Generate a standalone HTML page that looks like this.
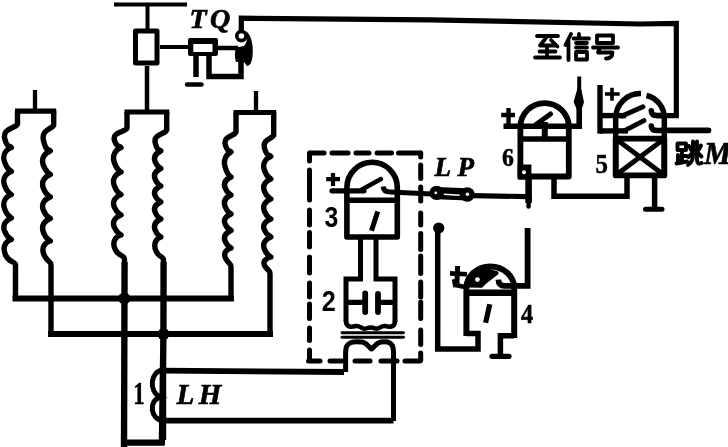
<!DOCTYPE html>
<html><head><meta charset="utf-8"><title>diagram</title>
<style>
html,body{margin:0;padding:0;background:#fff;}
body{width:728px;height:447px;overflow:hidden;font-family:"Liberation Sans",sans-serif;}
svg{display:block;filter:grayscale(1)}
.s{font-family:"Liberation Serif",serif;}
.a{font-family:"Liberation Sans",sans-serif;}
</style></head><body>
<svg width="728" height="447" viewBox="0 0 728 447">
<rect width="728" height="447" fill="#fff"/>
<g fill="none" stroke="#000" stroke-linecap="butt" stroke-linejoin="miter">
<path d="M114,4.5 H187" stroke-width="4" />
<path d="M147.5,5 V29" stroke-width="4" />
<path d="M135.5,31 H157 V63 H135.5 Z" stroke-width="5" stroke-linejoin="round"/>
<path d="M147,66 V112" stroke-width="4.5" />
<path d="M160,47 H188" stroke-width="4" />
<path d="M196,55 V77" stroke-width="5.5" />
<path d="M209,55 V76.4 H241 V60" stroke-width="5.5" />
<path d="M187,84.5 H201.5" stroke-width="4.5" stroke-linecap="round"/>
<path d="M217,48 H238" stroke-width="4.5" />
<path d="M241.3,30 V18.2 L430,19.8 L640,24 L676.3,23.4 V115.6 H664" stroke-width="5.2" stroke-linejoin="miter"/>
<path d="M15,111.2 H56.2" stroke-width="5.2" />
<path d="M35,90 V111" stroke-width="4.3" />
<path d="M17.5,111 L17.5,124 L17.5,124 C16.5,128 2.165000000000001,128.03 4.6850000000000005,138.32999999999998 S9.3,145.1 11.3,147.6 C6.260000000000001,149.6 1.8500000000000014,154.76999999999998 4.6850000000000005,162.418 S8.8,169.0 11.3,171.5 C6.260000000000001,173.5 1.8500000000000014,178.43 4.6850000000000005,185.822 S8.8,192.1 11.3,194.6 C6.260000000000001,196.6 1.8500000000000014,201.62 4.6850000000000005,209.108 S8.8,215.5 11.3,218 C6.260000000000001,220 1.8500000000000014,224.45 4.6850000000000005,231.33 S8.8,237.0 11.3,239.5 C5.630000000000001,241.0 1.8500000000000014,247.375 5.630000000000001,255.25 S15.5,261 15.5,265 L15.5,298.5" stroke-width="5.4" stroke-linejoin="round"/>
<path d="M53.7,111 L53.7,125 L53.7,125 C52.7,129 40.875,129.15 43.474999999999994,140.65 S48.3,148.5 50.3,151 C45.099999999999994,153 40.55,158.05 43.474999999999994,165.57 S47.8,172.0 50.3,174.5 C45.099999999999994,176.5 40.55,181.25 43.474999999999994,188.45 S47.8,194.5 50.3,197 C45.099999999999994,199 40.55,203.45 43.474999999999994,210.33 S47.8,216.0 50.3,218.5 C45.099999999999994,220.5 40.55,225.25 43.474999999999994,232.45 S47.8,238.5 50.3,241 C44.449999999999996,242.5 40.55,248.35 44.449999999999996,255.7 S51,261 51,265 L51,334" stroke-width="5.4" stroke-linejoin="round"/>
<path d="M124.5,112 H169.3" stroke-width="5.2" />
<path d="M127,112 L127,128 L127,128 C126,132 111.865,131.83 114.385,140.13 S119,145.1 121,147.6 C115.96,149.6 111.55,154.92 114.385,162.728 S118.5,169.5 121,172 C115.96,174 111.55,178.78 114.385,186.012 S118.5,192.1 121,194.6 C115.96,196.6 111.55,200.72 114.385,207.248 S118.5,212.5 121,215 C115.96,217 111.55,221.0 114.385,227.4 S118.5,232.5 121,235 C115.33,236.5 111.55,242.35 115.33,249.7 S124.5,255 124.5,259 L124.5,447" stroke-width="5.4" stroke-linejoin="round"/>
<path d="M166.7,112 L166.7,130 L166.7,130 C165.7,134 153.115,133.9 155.235,142.9 S158.8,148.5 160.8,151 C156.56,153 152.85000000000002,156.25 155.235,161.85 S158.3,166.0 160.8,168.5 C156.56,170.5 152.85000000000002,173.75 155.235,179.35 S158.3,183.5 160.8,186 C156.56,188 152.85000000000002,190.8 155.235,195.92 S158.3,199.5 160.8,202 C156.56,204 152.85000000000002,207.1 155.235,212.54 S158.3,216.5 160.8,219 C156.56,221 152.85000000000002,224.4 155.235,230.16 S158.3,234.5 160.8,237 C156.03,238.5 152.85000000000002,244.0 156.03,251.0 S163.5,256 163.5,260 L163.5,440" stroke-width="5.4" stroke-linejoin="round"/>
<path d="M233.5,112.5 H276.2" stroke-width="5.2" />
<path d="M256,91 V112" stroke-width="4.3" />
<path d="M236,112.5 L236,132 L236,132 C235,136 223.025,135.85 225.225,144.35 S229,149.5 231,152 C226.6,154 222.75,159.5 225.225,167.5 S228.5,174.5 231,177 C226.6,179 222.75,182.4 225.225,188.16 S228.5,192.5 231,195 C226.6,197 222.75,200.7 225.225,206.78 S228.5,211.5 231,214 C226.6,216 222.75,218.95 225.225,224.23 S228.5,228.0 231,230.5 C226.6,232.5 222.75,235.75 225.225,241.35 S228.5,245.5 231,248 C226.05,249.5 222.75,253.6 226.05,259.2 S231,263 231,267 L231,298.5" stroke-width="5.4" stroke-linejoin="round"/>
<path d="M273.7,112.5 L273.7,135 L273.7,135 C272.7,139 262.1,138.925 264.5,148.175 S268.8,154.0 270.8,156.5 C266.0,158.5 261.8,163.25 264.5,170.45 S268.3,176.5 270.8,179 C266.0,181 261.8,185.0 264.5,191.4 S268.3,196.5 270.8,199 C266.0,201 261.8,205.0 264.5,211.4 S268.3,216.5 270.8,219 C266.0,221 261.8,224.4 264.5,230.16 S268.3,234.5 270.8,237 C266.0,239 261.8,243.0 264.5,249.4 S268.3,254.5 270.8,257 C265.40000000000003,258.5 261.8,261.9 265.40000000000003,266.8 S270,270 270,274 L270,334" stroke-width="5.4" stroke-linejoin="round"/>
<path d="M15.5,298.5 H231" stroke-width="6" stroke-linecap="square"/>
<path d="M51,334 H270" stroke-width="6" stroke-linecap="square"/>
<path d="M121.2,442.6 H164.6" stroke-width="6.4" />
<path d="M124.6,262 L123.9,447" stroke-width="6.2" />
<path d="M163.6,262 L163.4,334 L161.8,445" stroke-width="6.2" />
<path d="M162.5,370.6 L344,372" stroke-width="5.8" />
<path d="M162,420.7 H393.5" stroke-width="5.8" />
<path d="M163,370 C151,370.5 147.5,391 160.5,397 C147.5,401 151,420 163,420.5" stroke-width="5" />
<path d="M310,153 H324" stroke-width="5" stroke-linecap="round"/>
<path d="M332,153 H348" stroke-width="5" stroke-linecap="round"/>
<path d="M356,153 H369" stroke-width="5" stroke-linecap="round"/>
<path d="M377,153 H391.5" stroke-width="5" stroke-linecap="round"/>
<path d="M398.5,153 H420" stroke-width="5" stroke-linecap="round"/>
<path d="M309.5,153 V161" stroke-width="5" stroke-linecap="round"/>
<path d="M309.5,170 V200" stroke-width="5" stroke-linecap="round"/>
<path d="M309.5,210 V225" stroke-width="5" stroke-linecap="round"/>
<path d="M309.5,232.5 V247" stroke-width="5" stroke-linecap="round"/>
<path d="M309.5,257 V273" stroke-width="5" stroke-linecap="round"/>
<path d="M309.5,283 V297" stroke-width="5" stroke-linecap="round"/>
<path d="M309.5,304 V318.5" stroke-width="5" stroke-linecap="round"/>
<path d="M309.5,328 V340.5" stroke-width="5" stroke-linecap="round"/>
<path d="M309.5,350 V360" stroke-width="5" stroke-linecap="round"/>
<path d="M420.7,153 V157" stroke-width="5" stroke-linecap="round"/>
<path d="M420.7,165 V178.5" stroke-width="5" stroke-linecap="round"/>
<path d="M420.7,187 V201" stroke-width="5" stroke-linecap="round"/>
<path d="M420.7,213 V225" stroke-width="5" stroke-linecap="round"/>
<path d="M420.7,233.5 V249.5" stroke-width="5" stroke-linecap="round"/>
<path d="M420.7,256 V273.5" stroke-width="5" stroke-linecap="round"/>
<path d="M420.7,282 V297" stroke-width="5" stroke-linecap="round"/>
<path d="M420.7,302 V318.5" stroke-width="5" stroke-linecap="round"/>
<path d="M420.7,330 V344.5" stroke-width="5" stroke-linecap="round"/>
<path d="M420.7,353 V360" stroke-width="5" stroke-linecap="round"/>
<path d="M308.5,361 H320" stroke-width="5" stroke-linecap="round"/>
<path d="M330,361 H342" stroke-width="5" stroke-linecap="round"/>
<path d="M355,361 H370" stroke-width="5" stroke-linecap="round"/>
<path d="M381,361 H397" stroke-width="5" stroke-linecap="round"/>
<path d="M405,361 H420" stroke-width="5" stroke-linecap="round"/>
<path d="M346.9,237 V187.5 A25.2,25.2 0 0 1 397.3,187.5 V237 Z" stroke-width="5.6" stroke-linejoin="round"/>
<path d="M346.8,200.2 H397.3" stroke-width="5.6" />
<path d="M332,190.8 H364" stroke-width="5.2" stroke-linecap="round"/>
<path d="M361,190 L381,179" stroke-width="4.4" stroke-linecap="round"/>
<path d="M383.2,186.5 C383.5,190.5 386,192 390,192 L432,194" stroke-width="5" />
<path d="M326.2,179.2 H340 M333,173 V186" stroke-width="4.2" />
<path d="M377.7,211.6 L371.5,230.7" stroke-width="5" />
<path d="M360.5,238 V279 H346 V322" stroke-width="5" stroke-linejoin="miter"/>
<path d="M376,238 V279 H395 V322" stroke-width="5" stroke-linejoin="miter"/>
<path d="M346,302.4 H364 M378,302.4 H395" stroke-width="5.2" />
<path d="M365.2,293.5 V312 M378,294 V312" stroke-width="5.8" stroke-linecap="round"/>
<path d="M346,321 C346,328 352,327 356,326 C360,325 362,330 366,328.5 C370,327 372,327 375,328.5 C379,330 381,325 385,326 C389,327 395,328 395,321" stroke-width="4.5" />
<path d="M342,332.8 H403.5" stroke-width="2.9" stroke-linecap="round"/>
<path d="M342,337.2 H403.5" stroke-width="2.9" stroke-linecap="round"/>
<path d="M345.6,372 V352 C345.6,340 356,341.5 362,342 C367,342.5 368,347 371.5,349 C375,347 376,342.5 381,342 C387,341.5 393.5,341 393.5,352 V421" stroke-width="5" stroke-linejoin="round"/>
<path d="M472,195.6 L528,196.6" stroke-width="5.2" />
<path d="M528.6,178 V203" stroke-width="6.6" />
<path d="M528.6,202 V206.5" stroke-width="4.4" stroke-linecap="round"/>
<path d="M437.7,227 V349 H478 V333.6 H466.4" stroke-width="5.5" stroke-linejoin="miter"/>
<path d="M466.4,336 V288 A23.9,21.6 0 0 1 514.2,288 V338" stroke-width="6" />
<path d="M466.4,292.7 H514.2" stroke-width="6.4" />
<path d="M455.5,285 L467,287.5" stroke-width="4.5" />
<path d="M498.4,279.6 C498.6,284 500.5,285.8 504.5,285.8 H527.6 V228" stroke-width="5.8" stroke-linejoin="miter"/>
<path d="M514.2,335.7 H500.4 V355" stroke-width="5.5" stroke-linejoin="miter"/>
<path d="M492,356.3 H509" stroke-width="5.2" stroke-linecap="round"/>
<path d="M489.8,304.2 L485.6,322.8" stroke-width="5.2" />
<path d="M450,273.4 L467,274.2" stroke-width="4.6" />
<path d="M457.6,266 L456.8,287" stroke-width="5" />
<path d="M455,279 L456.5,287" stroke-width="6.5" />
<path d="M520.4,176.5 V127 A24.2,24 0 0 1 568.8,127 V176.5 Z" stroke-width="5.8" stroke-linejoin="round"/>
<path d="M520,139 H568.8" stroke-width="5.5" />
<path d="M503.5,126.3 H579.2 V100" stroke-width="5.6" stroke-linejoin="miter"/>
<path d="M579.2,100 V76.5" stroke-width="4" />
<path d="M536,124.5 L550.5,114" stroke-width="5" stroke-linecap="round"/>
<path d="M544.8,122 V138" stroke-width="6" />
<path d="M501.2,115 H515 M508.5,108 V124" stroke-width="4.4" />
<path d="M554,178 V196.3 H627 V176" stroke-width="5.5" stroke-linejoin="miter"/>
<path d="M600,85 V133.6" stroke-width="5.4" />
<path d="M600,115.6 H626" stroke-width="5.4" />
<path d="M600,130.9 H628" stroke-width="5.4" />
<path d="M622,116 L643,106.8" stroke-width="4.8" stroke-linecap="round"/>
<path d="M624,130.8 L644,120.6" stroke-width="4.8" stroke-linecap="round"/>
<path d="M615.7,175.4 V118 A24.5,24.5 0 0 1 641,93.6" stroke-width="5.5" />
<path d="M646.5,95.5 A23,23 0 0 1 664.3,118 V175.4" stroke-width="5.5" />
<path d="M615.7,138.7 H664.3 V175.4 H615.7 Z" stroke-width="5.8" stroke-linejoin="round"/>
<path d="M616,139 L664,175 M664,139 L616,175" stroke-width="4.8" />
<path d="M651.3,110.8 C651.5,114.5 653.5,115.6 657.5,115.6 H664" stroke-width="5.6" stroke-linecap="round"/>
<path d="M651.3,126 C651.5,129.5 653.5,130.5 657.5,130.5 H664" stroke-width="5.6" stroke-linecap="round"/>
<path d="M662,130.4 H708.5" stroke-width="5.6" stroke-linecap="round"/>
<path d="M654.6,176 V208" stroke-width="5.5" />
<path d="M645.5,209.3 H662" stroke-width="5" stroke-linecap="round"/>
<path d="M605,94 H619.7 M612,87.7 V100.7" stroke-width="3.6" />
</g>
<g fill="#000" stroke="none">
<!-- junction dots -->
<circle cx="124.3" cy="298.5" r="6"/>
<circle cx="163.5" cy="334" r="6"/>
<circle cx="438.7" cy="228" r="5.6"/>
<circle cx="528.4" cy="197" r="3.6"/>
<!-- TQ contact -->
<path d="M246,31 C252,36 253.5,46 252.5,56 C252,62 250,66 247,66 L244,62 H236 C234.5,58 234.5,52 236,47.5 L244,46 C247,43 248,37 246,31 Z"/>
<path fill-rule="evenodd" d="M190,38 H216 Q218,38 218,40 V54 Q218,56 216,56 H190 Q188,56 188,54 V40 Q188,38 190,38 Z M193.3,44 V52 H212.5 V44 Z"/>
<!-- LP link -->
<circle cx="436.6" cy="192.9" r="7.2"/>
<circle cx="467.3" cy="194.5" r="7.3"/>
<path d="M436.6,187 L467.3,188.3 V200.6 L436.6,199.2 Z"/>
<path d="M468,287.5 V278 L474,273 L482,269.5 L490,269 L498,271.5 L498.6,274 L487,283 L482,287.8 Z"/>
<!-- arrow head relay 6 -->
<path d="M579.2,82 L581.4,90 L584,102 L581.8,109 H576.6 L573.6,102 L577,90 Z"/>
<!-- relay 6 small square -->
<rect x="517.6" y="164.5" width="13.8" height="15"/>
</g>
<g fill="#fff" stroke="none">
<circle cx="435.8" cy="192.8" r="1.4"/>
<circle cx="467.4" cy="194.3" r="1.8"/>
<path d="M443.8,193.4 L459.7,194.4 V196 L443.8,195 Z"/>
<circle cx="524" cy="172.2" r="2"/>
<circle cx="477.4" cy="279.6" r="2.4"/>
</g>
<!-- contact ring -->
<circle cx="241.4" cy="36" r="4.6" fill="#fff" stroke="#000" stroke-width="3.6"/>
<g fill="#000" stroke="#000" stroke-width="0.7" class="s" font-weight="bold" font-style="italic">
<text x="189.5" y="28.3" font-size="28" letter-spacing="3.5">TQ</text>
<text x="176.5" y="404" font-size="29" letter-spacing="4.5">LH</text>
<text x="434.5" y="176" font-size="27" letter-spacing="6.5">LP</text>
<text x="704" y="164.3" font-size="30.5">M</text>
</g>
<g fill="#000" stroke="#000" stroke-width="0.5">
<text transform="translate(133.2,404.3) scale(0.74,1)" font-size="31" class="s" font-weight="bold">1</text>
<text transform="translate(324.6,226.7) scale(0.84,1)" font-size="29.5" class="a" font-weight="bold" stroke-width="0">3</text>
<text transform="translate(321.8,311.2) scale(0.84,1)" font-size="30" class="a" font-weight="bold" stroke-width="0">2</text>
<text transform="translate(521,323) scale(0.9,1)" font-size="27" class="s" font-weight="bold">4</text>
<text transform="translate(595.5,173) scale(0.92,1)" font-size="27" class="s" font-weight="bold">5</text>
<text transform="translate(502,166.3) scale(0.95,1)" font-size="25" class="s" font-weight="bold">6</text>
</g>
<!-- CJK drawn as strokes -->
<g fill="none" stroke="#000" stroke-width="3.8" stroke-linecap="round" stroke-linejoin="round">
<!-- 至 -->
<path d="M537,36 H558 M547,36.5 L540,45.5 H556 M551,40 L557.5,46.5 M547,47 V57 M539.5,51.5 H555.5 M535,57.5 H560"/>
<!-- 信 -->
<path d="M571,34 L565.5,45 M568.5,41 V60 M579,34 V36.5 M573.5,38.5 H589 M576,43 H587 M576,47.5 H587 M576,52 H587 V59.5 H576 Z"/>
<!-- 号 -->
<path d="M597,35.5 H613 V43 H597 Z M593,47.5 H618 M600,47.5 L598,52.5 H612.5 C612.5,56 611,58.5 606,58.5"/>
</g>
<g fill="none" stroke="#000" stroke-width="3.9" stroke-linecap="round" stroke-linejoin="round">
<!-- 跳 -->
<path d="M677.5,143.5 H686 V150 H677.5 Z M682,150 V162 M678,155 V163 M682,156 H686.5 M676.5,163.5 L687,161.5 M693,141.5 V155 C693,160 691,163 688,165 M697,141.5 V160 C697,163.5 699,164 701.5,163 M689,146 L691,150 M701,145.5 L698.5,150 M688.5,157 L692,153.5 M698,153 L701.5,156.5"/>
</g>
</svg>
</body></html>
